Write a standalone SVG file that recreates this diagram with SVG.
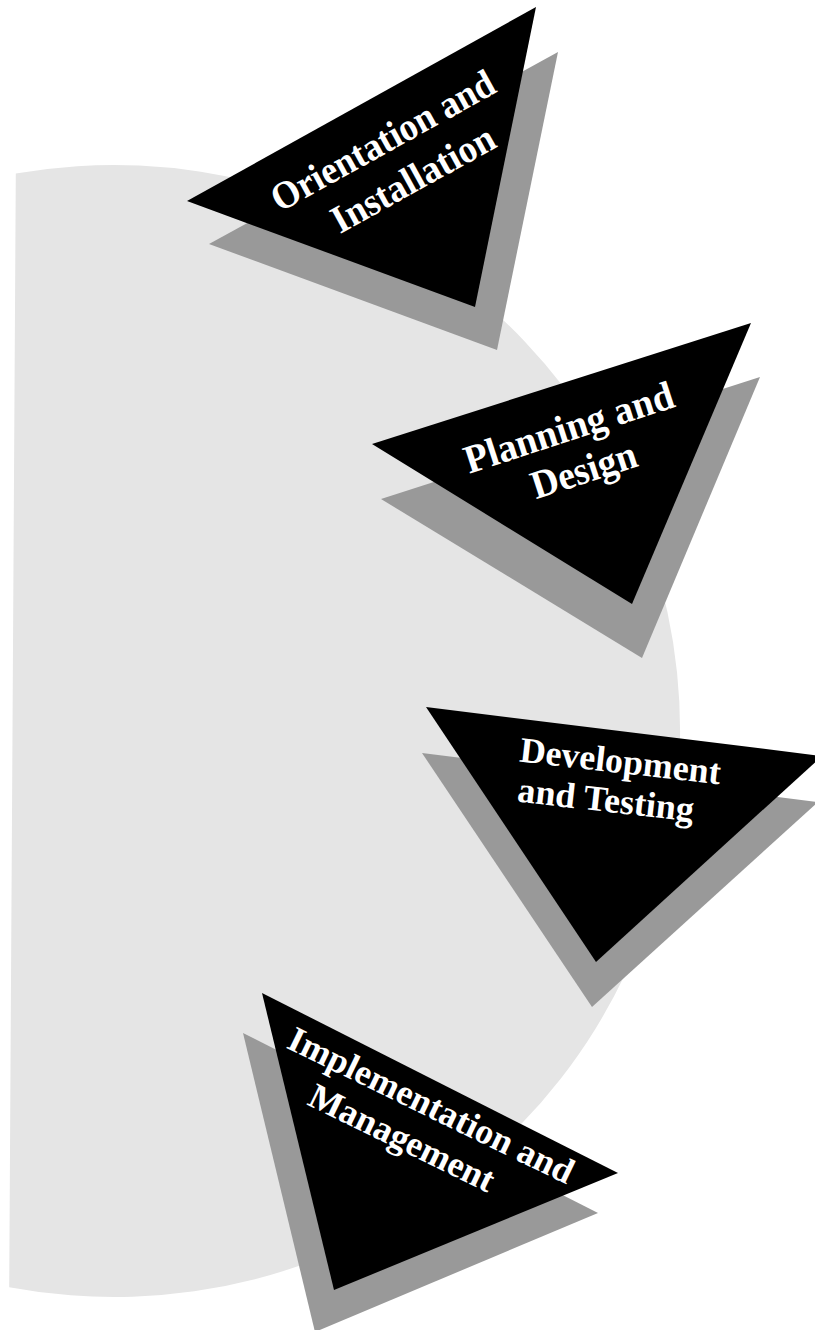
<svg xmlns="http://www.w3.org/2000/svg" width="815" height="1330" viewBox="0 0 815 1330">
<style>
.bg{fill:#e5e5e5}
.shadow{fill:#999999}
.tri{fill:#000000}
.lbl{fill:#ffffff;font-family:"Liberation Serif","Times New Roman",serif;font-weight:bold;text-anchor:middle}
</style>
<rect width="815" height="1330" fill="#ffffff"/>
<g id="background">
<path class="bg" d="M15.8,173.6 A566,566 0 1 1 9.2,1287.2 Z"/>
</g>
<g id="connectors"></g>
<g id="orientation">
<polygon class="shadow" points="209,244 558,52 497,350"/>
<polygon class="tri" points="187,201 536,7 475,307"/>
<g transform="translate(389,152) rotate(-29)">
<text class="lbl" font-size="39" x="0" y="0" textLength="250" lengthAdjust="spacingAndGlyphs">Orientation and</text>
<text class="lbl" font-size="39" x="8" y="48" textLength="181" lengthAdjust="spacingAndGlyphs">Installation</text>
</g>
</g>
<g id="planning">
<polygon class="shadow" points="381,499 760,377 642,658"/>
<polygon class="tri" points="372,444 751,323 632,604"/>
<g transform="translate(573,440) rotate(-18)">
<text class="lbl" font-size="40" x="0" y="0" textLength="218" lengthAdjust="spacingAndGlyphs">Planning and</text>
<text class="lbl" font-size="40" x="1" y="45" textLength="109" lengthAdjust="spacingAndGlyphs">Design</text>
</g>
</g>
<g id="development">
<polygon class="shadow" points="422,753 818,802 592,1007"/>
<polygon class="tri" points="426,707 822,756 596,962"/>
<g transform="translate(619,773) rotate(6.5)">
<text class="lbl" font-size="36" x="0" y="0">Development</text>
<text class="lbl" font-size="36" x="-10" y="40">and Testing</text>
</g>
</g>
<g id="implementation">
<polygon class="shadow" points="243,1033 598,1213 315,1332"/>
<polygon class="tri" points="262,993 618,1173 334,1290"/>
<g transform="translate(426,1116) rotate(26)">
<text class="lbl" font-size="36" x="0" y="0">Implementation and</text>
<text class="lbl" font-size="36" x="-12" y="42">Management</text>
</g>
</g>
</svg>
